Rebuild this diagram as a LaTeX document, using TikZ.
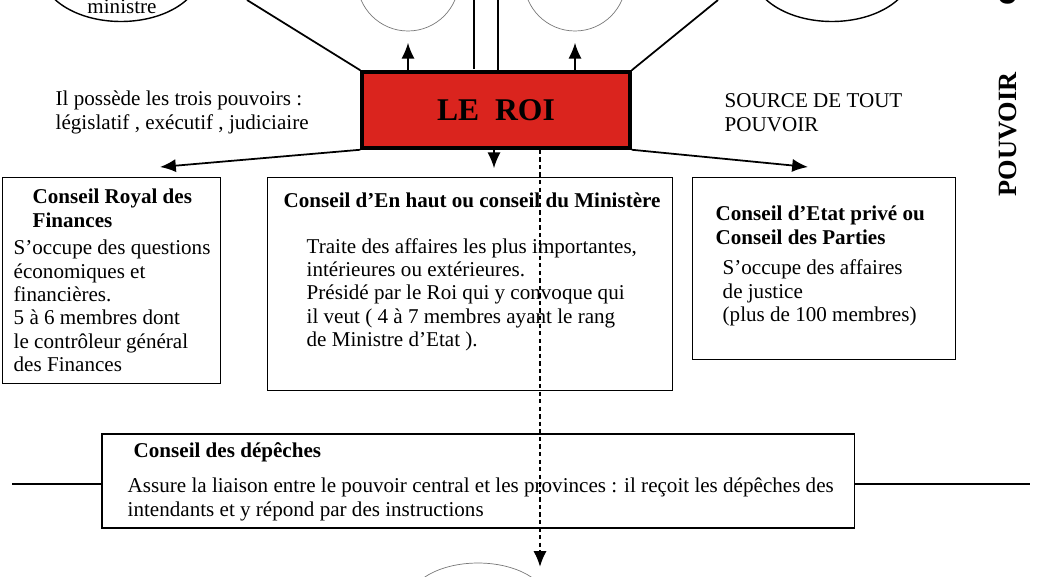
\documentclass[tikz,border=0pt]{standalone}
\usepackage{fontspec}
\setmainfont{Liberation Serif}
\usetikzlibrary{arrows.meta,shapes.geometric}

\definecolor{rougeroi}{RGB}{218,36,30}
\definecolor{grisc}{RGB}{120,120,120}

\tikzset{
  cadre/.style={draw,line width=.7pt,inner sep=0pt,anchor=north west},
  texte/.style={anchor=north west,inner sep=0pt,align=left,font=\fontsize{12}{13.3}\selectfont},
  titre/.style={texte,font=\fontsize{12}{13.3}\selectfont\bfseries},
  pointe/.style={-{Latex[length=9pt,width=7.5pt]}},
  fleche/.style={line width=1pt,pointe},
}

\begin{document}
\begin{tikzpicture}[x=0.02cm,y=-0.02cm,line width=.8pt]
\useasboundingbox (0,0) rectangle (1038,576);
% cercles du haut (coupes)
\node[draw,ellipse,minimum width=3.2cm,minimum height=2.02cm,inner sep=0pt] (premier) at (121,-29) {};
\node[draw=grisc,line width=.4pt,circle,minimum size=2.04cm,inner sep=0pt] (cercleA) at (408,-20) {};
\node[draw=grisc,line width=.4pt,circle,minimum size=2.04cm,inner sep=0pt] (cercleB) at (575,-20) {};
\node[draw,ellipse,minimum width=3.2cm,minimum height=2.02cm,inner sep=0pt] (cercleC) at (832,-29) {};
\node[anchor=base,inner sep=0pt,font=\fontsize{12}{13.3}\selectfont] (ministre) at (122,13) {ministre};
% le roi
\node[draw,line width=2pt,fill=rougeroi,minimum width=5.36cm,minimum height=1.52cm,inner sep=0pt,
  font=\fontsize{18}{20}\selectfont\bfseries] (roi) at (496,110) {LE\hspace{.5em}ROI};
\coordinate (hautG) at (247,0);
\coordinate (hautD) at (718,0);
\coordinate (filA) at (474,0);
\coordinate (filB) at (498,0);
\draw[line width=1pt] (roi.north west)--(hautG);
\draw[line width=1pt] (roi.north east)--(hautD);
\draw[line width=1pt] (filA)--(filA|-0,69);
\draw[line width=1pt] (filB)--(filB|-0,70);
\draw[fleche,shorten >=6.5pt] (roi.north-|cercleA.south)--(cercleA.south);
\draw[fleche,shorten >=6.5pt] (roi.north-|cercleB.south)--(cercleB.south);
\node[texte] (pouvoirs) at (55,88.6) {\strut Il possède les trois pouvoirs :\\législatif , exécutif , judiciaire};
\node[texte] (source) at (724,90.6) {\strut SOURCE DE TOUT\\POUVOIR};
\node[rotate=90,inner sep=0pt,font=\fontsize{15}{17}\selectfont\bfseries] (pouvoir) at (1008,134.5) {POUVOIR};
\node[rotate=90,anchor=west,inner sep=0pt,font=\fontsize{15}{17}\selectfont\bfseries] (pouvoirC) at (1008,6) {C};
% les conseils
\node[cadre,minimum width=4.36cm,minimum height=4.12cm] (finances) at (2,177) {};
\node[cadre,minimum width=8.10cm,minimum height=4.26cm] (ministere) at (267,177) {};
\node[cadre,minimum width=5.26cm,minimum height=3.64cm] (etat) at (692,177) {};
\node[cadre,line width=.9pt,minimum width=15.06cm,minimum height=1.88cm] (depeches) at (101,433) {};
\node[titre] (financesT) at (32,186.6) {\strut Conseil Royal des\\Finances};
\node[texte] (financesB) at (13,237.6) {\strut S’occupe des questions\\économiques et\\financières.\\5 à 6 membres dont\\le contrôleur général\\des Finances};
\node[titre] (ministereT) at (283,190.6) {\strut Conseil d’En haut ou conseil du Ministère};
\node[texte] (ministereB) at (306,236) {\strut Traite des affaires les plus importantes,\\intérieures ou extérieures.\\Présidé par le Roi qui y convoque qui\\il veut ( 4 à 7 membres ayant le rang\\de Ministre d’Etat ).};
\node[titre] (etatT) at (715,203.6) {\strut Conseil d’Etat privé ou\\Conseil des Parties};
\node[texte] (etatB) at (722,257.6) {\strut S’occupe des affaires\\de justice\\(plus de 100 membres)};
\node[titre] (depechesT) at (133,440.6) {\strut Conseil des dépêches};
\node[texte] (depechesB) at (127,475.6) {\strut Assure la liaison entre le pouvoir central et les provinces : il reçoit les dépêches des\\intendants et y répond par des instructions};
% fleches vers les conseils
\coordinate (versF) at (160,167);
\coordinate (versE) at (808,167);
\draw[fleche] (roi.south west)--(versF);
\draw[fleche] (roi.south east)--(versE);
\draw[fleche,shorten >=5pt] (roi.south-|494,0)--(ministere.north-|494,0);
% ligne des provinces
\coordinate (ligneG) at (12,484);
\coordinate (ligneD) at (1030,484);
\draw (ligneG)--(ligneG-|depeches.west);
\draw (depeches.east|-ligneD)--(ligneD);
% cercle du bas
\node[draw=grisc,line width=.4pt,ellipse,minimum width=2.8cm,minimum height=1.6cm,inner sep=0pt] (intendant) at (478,603) {};
\coordinate (basP) at (540,567);
\draw[line width=1.2pt,dash pattern=on 2.5pt off 1.8pt,pointe] (roi.south-|basP)--(basP);
\end{tikzpicture}
\end{document}
